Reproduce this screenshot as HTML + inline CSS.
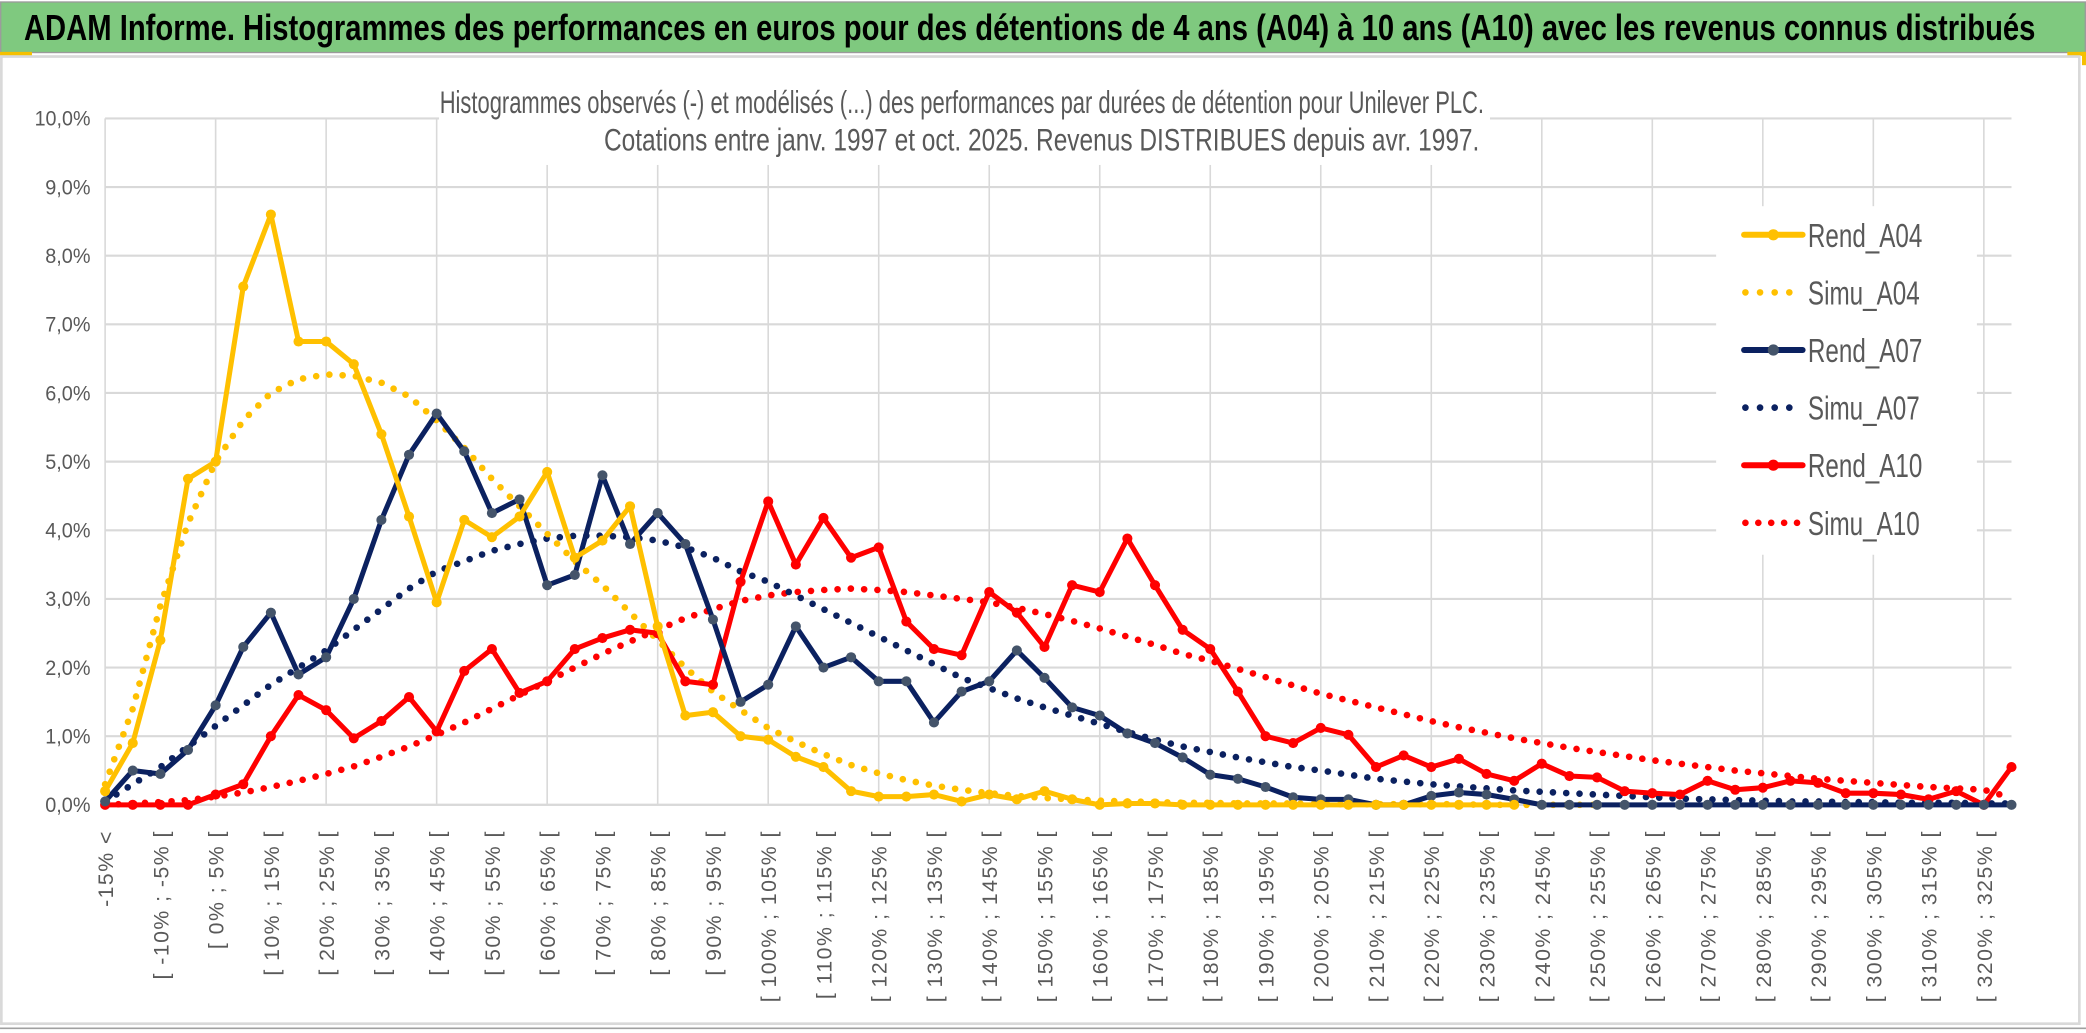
<!DOCTYPE html>
<html><head><meta charset="utf-8"><style>
html,body{margin:0;padding:0;background:#fff;}
svg{display:block;}
</style></head><body>
<svg id="chart" xmlns="http://www.w3.org/2000/svg" width="2086" height="1033" viewBox="0 0 1568 776.5">
<rect x="0" y="0" width="1568" height="776.5" fill="#fff"/>
<rect x="0.5" y="1.5" width="1567" height="38" fill="#7fc97f" stroke="#9a9a9a" stroke-width="1"/>
<text x="18" y="30" font-family="'Liberation Sans Narrow','Liberation Sans',sans-serif" font-weight="bold" font-size="27" fill="#000" textLength="1512" lengthAdjust="spacingAndGlyphs">ADAM Informe. Histogrammes des performances en euros pour des détentions de 4 ans (A04) à 10 ans (A10) avec les revenus connus distribués</text>
<rect x="0" y="39" width="24" height="3" fill="#f5c000"/>
<rect x="1554" y="39" width="14" height="3" fill="#f5c000"/>
<rect x="1565" y="39" width="3" height="10" fill="#f5c000"/>
<rect x="1" y="42.5" width="1562" height="727" fill="#fff" stroke="#d9d9d9" stroke-width="2"/>
<line x1="0" y1="773" x2="1568" y2="773" stroke="#a0a0a0" stroke-width="1.2"/>
<g id="grid"></g>
<rect x="330" y="58" width="790" height="66" fill="#fff"/>
<g font-family="'Liberation Sans Narrow','Liberation Sans',sans-serif" font-size="24" fill="#595959" text-anchor="middle">
<text x="723" y="85" textLength="785" lengthAdjust="spacingAndGlyphs">Histogrammes observés (-) et modélisés (...) des performances par durées de détention pour Unilever PLC.</text>
<text x="783" y="113" textLength="658" lengthAdjust="spacingAndGlyphs">Cotations entre janv. 1997 et oct. 2025. Revenus DISTRIBUES depuis avr. 1997.</text>
</g>
<g id="yticks"></g>
<g id="xticks"></g>
<g id="series"></g>
<g id="legend"></g>
</svg>
<script>
const categories = ["-15% <","[ -15% ; -10% [","[ -10% ; -5% [","[ -5% ; 0% ["];
for (let p = 0; p <= 325; p += 5) { if (categories.length < 70) categories.push("[ " + p + "% ; " + (p + 5) + "% ["); }
const yTicks = [0,1,2,3,4,5,6,7,8,9,10];
const yTickLabels = ["0,0%","1,0%","2,0%","3,0%","4,0%","5,0%","6,0%","7,0%","8,0%","9,0%","10,0%"];
const rendA04 = [0.2,0.9,2.4,4.75,5.0,7.55,8.6,6.75,6.75,6.42,5.4,4.2,2.95,4.15,3.9,4.2,4.85,3.6,3.85,4.35,2.6,1.3,1.35,1.0,0.95,0.7,0.55,0.2,0.12,0.12,0.15,0.05,0.15,0.08,0.2,0.08,0.0,0.02,0.02,0.0,0.0,0.0,0.0,0.0,0.0,0.0,0.0,0.0,0.0,0.0,0.0,0.0,null,null,null,null,null,null,null,null,null,null,null,null,null,null,null,null,null,null];
const simuA04 = [0.3,1.4,2.9,4.1,5.0,5.6,6.0,6.2,6.27,6.25,6.15,5.95,5.6,5.2,4.75,4.35,3.95,3.55,3.2,2.8,2.4,2.0,1.65,1.38,1.12,0.92,0.74,0.58,0.46,0.36,0.28,0.22,0.17,0.13,0.1,0.08,0.06,0.05,0.04,0.03,0.03,0.02,0.02,0.02,0.01,0.01,0.01,0.01,0.01,0.01,0.0,0.0,0.0,0.0,0.0,null,null,null,null,null,null,null,null,null,null,null,null,null,null,null];
const rendA07 = [0.05,0.5,0.45,0.8,1.45,2.3,2.8,1.9,2.15,3.0,4.15,5.1,5.7,5.15,4.25,4.45,3.2,3.35,4.8,3.8,4.25,3.8,2.7,1.5,1.75,2.6,2.0,2.15,1.8,1.8,1.2,1.65,1.8,2.25,1.85,1.42,1.3,1.04,0.9,0.69,0.44,0.38,0.26,0.11,0.08,0.08,0.0,0.0,0.13,0.18,0.15,0.08,0,0,0,0,0,0,0,0,0,0,0,0,0,0,0,0,0,0];
const simuA07 = [0.05,0.3,0.55,0.85,1.15,1.45,1.75,2.0,2.25,2.55,2.85,3.15,3.4,3.55,3.7,3.8,3.88,3.92,3.92,3.9,3.85,3.75,3.6,3.4,3.25,3.05,2.85,2.65,2.45,2.25,2.05,1.85,1.7,1.55,1.42,1.3,1.18,1.06,0.95,0.85,0.77,0.69,0.62,0.55,0.5,0.44,0.38,0.34,0.3,0.27,0.24,0.21,0.19,0.17,0.15,0.13,0.11,0.09,0.08,0.07,0.06,0.05,0.05,0.04,0.04,0.03,0.03,0.03,0.02,0.02];
const rendA10 = [0,0,0,0,0.15,0.3,1.0,1.6,1.38,0.97,1.22,1.57,1.07,1.95,2.27,1.63,1.8,2.27,2.43,2.55,2.5,1.8,1.75,3.25,4.42,3.5,4.18,3.6,3.75,2.67,2.27,2.18,3.1,2.8,2.3,3.2,3.1,3.88,3.2,2.55,2.27,1.65,1.0,0.9,1.12,1.02,0.55,0.72,0.55,0.67,0.45,0.35,0.6,0.42,0.4,0.2,0.17,0.15,0.35,0.22,0.25,0.35,0.32,0.17,0.17,0.15,0.08,0.2,0.0,0.55];
const simuA10 = [0.0,0.02,0.04,0.07,0.12,0.18,0.26,0.35,0.45,0.56,0.7,0.85,1.02,1.2,1.4,1.6,1.8,2.0,2.2,2.38,2.55,2.72,2.85,2.97,3.05,3.1,3.13,3.15,3.13,3.1,3.05,3.0,2.95,2.87,2.78,2.68,2.57,2.45,2.33,2.2,2.1,1.98,1.86,1.74,1.62,1.52,1.42,1.32,1.22,1.13,1.05,0.97,0.9,0.83,0.77,0.71,0.65,0.6,0.55,0.5,0.46,0.42,0.38,0.35,0.32,0.29,0.26,0.24,0.22,0.1];

const NS = "http://www.w3.org/2000/svg";
const X0 = 79, X1 = 1512, Y0 = 605, Y1 = 89;
function xs(i){ return X0 + i * (X1 - X0) / (categories.length - 1); }
function ys(v){ return Y0 - v * (Y0 - Y1) / 10; }
function mk(tag, attrs, parent){ const e = document.createElementNS(NS, tag); for (const k in attrs) e.setAttribute(k, attrs[k]); parent.appendChild(e); return e; }

const grid = document.getElementById('grid');
yTicks.forEach(function(t){
  const l = mk('line', {x1:X0, x2:X1, y1:ys(t), y2:ys(t), stroke:'#d9d9d9', 'stroke-width':1.6}, grid);
  
  
});
for (let i = 0; i < categories.length; i += 4) {
  const l = mk('line', {x1:xs(i), x2:xs(i), y1:Y1, y2:Y0, stroke:'#d9d9d9', 'stroke-width':1.2}, grid);
  
  
}
mk('line', {x1:X0, x2:X1, y1:Y0, y2:Y0, stroke:'#d9d9d9', 'stroke-width':1.6}, grid);

const yt = document.getElementById('yticks');
yTicks.forEach(function(t, k){
  const tx = mk('text', {x:68, y:ys(t)+5.5, 'text-anchor':'end', 'font-family':"'Liberation Sans Narrow','Liberation Sans',sans-serif", 'font-size':16, fill:'#595959', textLength: k === 10 ? 42 : 34, lengthAdjust:'spacingAndGlyphs'}, yt);
  tx.textContent = yTickLabels[k];
  
  
});
const xt = document.getElementById('xticks');
categories.forEach(function(c, i){
  if (i % 2 !== 0) return;
  const x = xs(i) + 6, y = 624;
  const tx = mk('text', {x:x, y:y, transform:'rotate(-90 '+x+' '+y+')', 'text-anchor':'end', 'font-family':"'Liberation Sans',sans-serif", 'font-size':16, 'letter-spacing':'1.1', fill:'#595959'}, xt);
  tx.textContent = c;
  
  
});

const seriesDefs = [
  {name:'Simu_A10', data:simuA10, color:'#ff0000', dotted:true},
  {name:'Simu_A07', data:simuA07, color:'#0b2160', dotted:true},
  {name:'Simu_A04', data:simuA04, color:'#ffc000', dotted:true},
  {name:'Rend_A10', data:rendA10, color:'#ff0000', dotted:false, marker:'#ff0000'},
  {name:'Rend_A07', data:rendA07, color:'#0b2160', dotted:false, marker:'#44546a'},
  {name:'Rend_A04', data:rendA04, color:'#ffc000', dotted:false, marker:'#ffc000'}
];
const sg = document.getElementById('series');
seriesDefs.forEach(function(s){
  const g = mk('g', {}, sg);
  
  
  let d = '', started = false;
  s.data.forEach(function(v, i){
    if (v === null) { started = false; return; }
    d += (started ? 'L' : 'M') + xs(i).toFixed(2) + ',' + ys(v).toFixed(2);
    started = true;
  });
  const p = mk('path', {d:d, fill:'none', stroke:s.color, 'stroke-width': s.dotted ? 5 : 3.8, 'stroke-linejoin':'round', 'stroke-linecap':'round'}, g);
  if (s.dotted) p.setAttribute('stroke-dasharray', '0 10');
  
  
  if (!s.dotted) {
    s.data.forEach(function(v, i){
      if (v === null) return;
      const c = mk('circle', {cx:xs(i), cy:ys(v), r:3.8, fill:s.marker}, g);
      
      
    });
  }
});

const lg = document.getElementById('legend');
mk('rect', {x:1290, y:155, width:196, height:262, fill:'#fff'}, lg);
const legendOrder = ['Rend_A04','Simu_A04','Rend_A07','Simu_A07','Rend_A10','Simu_A10'];
legendOrder.forEach(function(n, k){
  const s = seriesDefs.find(function(q){ return q.name === n; });
  const y = 176.5 + k * 43.3;
  const g = mk('g', {}, lg);
  
  
  if (s.dotted) {
    mk('line', {x1:1312, x2:1355, y1:y, y2:y, stroke:s.color, 'stroke-width':5, 'stroke-linecap':'round', 'stroke-dasharray': n === 'Simu_A10' ? '0 9.7' : '0 11'}, g);
  } else {
    mk('line', {x1:1311, x2:1355, y1:y, y2:y, stroke:s.color, 'stroke-width':4.5, 'stroke-linecap':'round'}, g);
    mk('circle', {cx:1333, cy:y, r:4.2, fill:s.marker}, g);
  }
  const t = mk('text', {x:1359, y:y+9, 'font-family':"'Liberation Sans Narrow','Liberation Sans',sans-serif", 'font-size':25, fill:'#595959', textLength: n.indexOf('Rend')===0 ? 86 : 84, lengthAdjust:'spacingAndGlyphs'}, g);
  t.textContent = n;
});
</script>
</body></html>
